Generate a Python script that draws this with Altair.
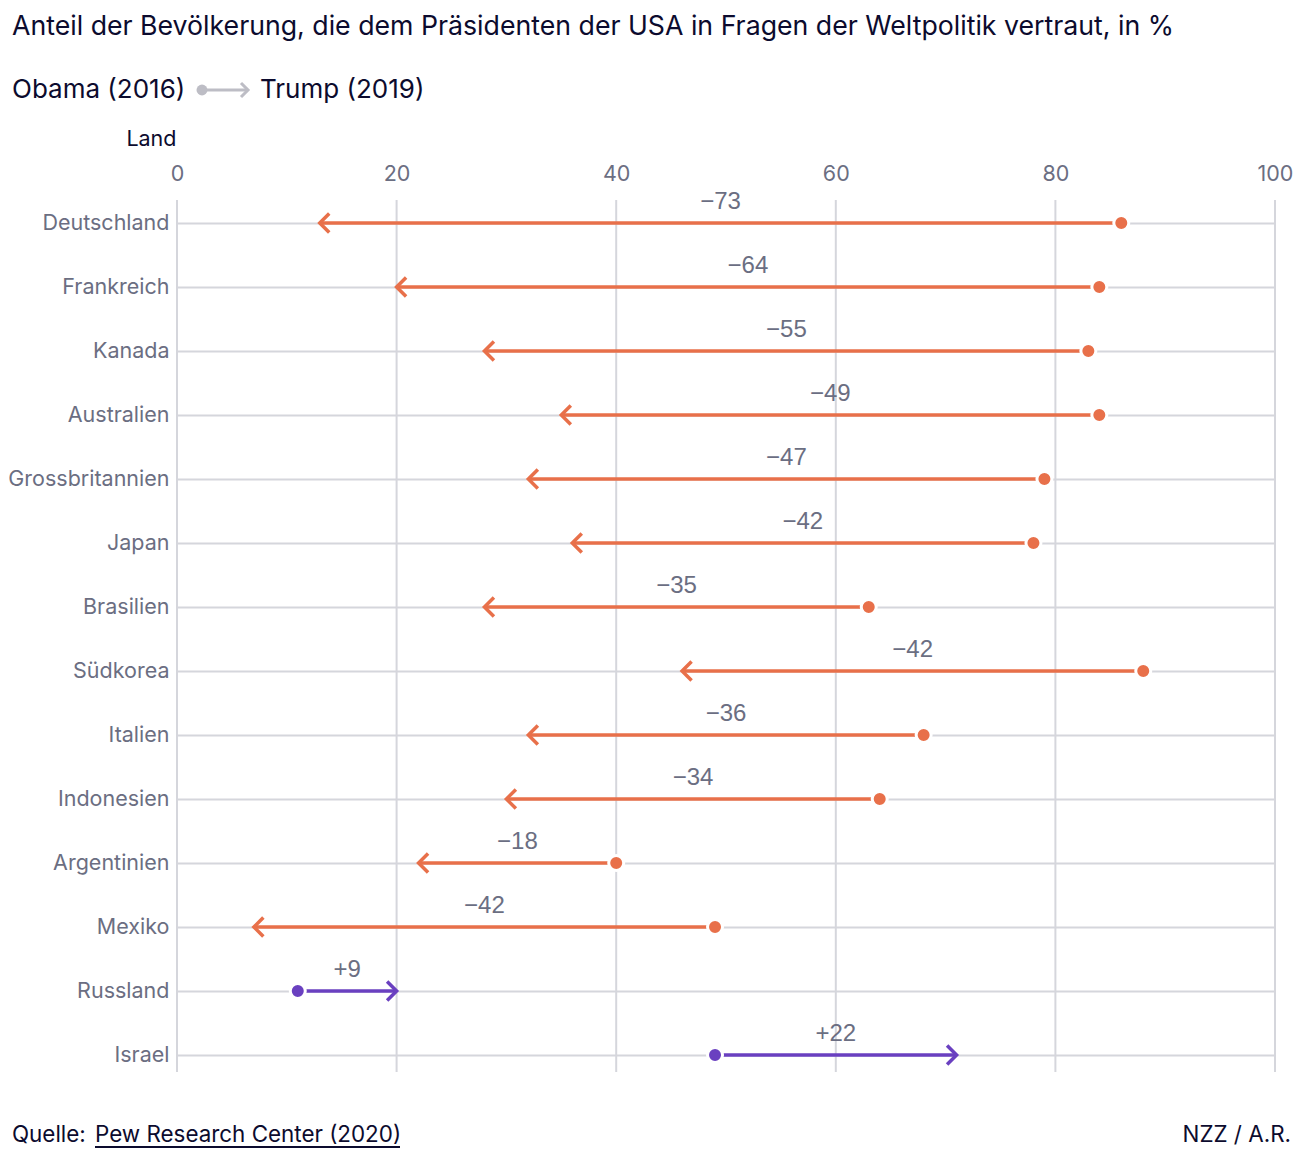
import altair as alt
import pandas as pd

# ---------------- data ----------------
countries = ["Deutschland", "Frankreich", "Kanada", "Australien", "Grossbritannien",
             "Japan", "Brasilien", "Südkorea", "Italien", "Indonesien",
             "Argentinien", "Mexiko", "Russland", "Israel"]
obama_2016 = [86, 84, 83, 84, 79, 78, 63, 88, 68, 64, 40, 49, 11, 49]
trump_2019 = [13, 20, 28, 35, 32, 36, 28, 46, 32, 30, 22, 7, 20, 71]
x_ticks = [0, 20, 40, 60, 80, 100]

title_text = "Anteil der Bevölkerung, die dem Präsidenten der USA in Fragen der Weltpolitik vertraut, in %"
legend_from = "Obama (2016)"
legend_to = "Trump (2019)"
source_label = "Quelle:"
source_link = "Pew Research Center (2020)"
credit = "NZZ / A.R."

# ---------------- style ----------------
FONT = "Inter"
NUMFONT = "Liberation Sans"
ORANGE = "#e8704a"
PURPLE = "#6a40c0"
DARK = "#0c0b2e"
GRAY_TXT = "#6b6e82"
GRID = "#d5d6dc"
LEG_GRAY = "#bdbdc5"

PL, PT = 177, 200  # plot origin in page pixels
W, H = 1098, 872


def px(x):
    return x - PL


def py(y):
    return y - PT


rows = []
for c, o, t in zip(countries, obama_2016, trump_2019):
    d = t - o
    lab = ("+" if d > 0 else "\u2212") + str(abs(d))
    rows.append({"Land": c, "Obama": o, "Trump": t, "mid": (o + t) / 2,
                 "lab": lab, "dir": "up" if d > 0 else "down"})
df = pd.DataFrame(rows)

yaxis = alt.Axis(title="Land", titleAngle=0, titleAlign="right",
                 titleX=-1, titleY=py(145), titleBaseline="alphabetic",
                 titleFont=FONT, titleFontSize=21.5, titleFontWeight="normal",
                 titleColor=DARK,
                 labelFont=FONT, labelFontSize=21.5, labelColor=GRAY_TXT,
                 labelPadding=8, ticks=False, tickSize=0, domain=False,
                 grid=True, gridColor=GRID, gridWidth=2)
yscale = alt.Scale(type="point", range=[23, 855], padding=0)
xaxis = alt.Axis(orient="top", values=x_ticks, title=None, labelFont=FONT,
                 labelFontSize=21.5, labelColor=GRAY_TXT, labelPadding=19.5,
                 labelBaseline="alphabetic", labelFlush=False, ticks=False,
                 tickSize=0, domain=False, grid=False)
xscale = alt.Scale(domain=[0, 100], nice=False)


def X(field, axis=xaxis):
    return alt.X(field, scale=xscale, axis=axis)


def Y():
    return alt.Y("Land:N", sort=countries, scale=yscale, axis=yaxis)


dir_scale = alt.Scale(domain=["down", "up"], range=[ORANGE, PURPLE])
col = alt.Color("dir:N", scale=dir_scale, legend=None)

# vertical grid lines at the x tick values, spanning the full plot height
vgrid = alt.Chart(pd.DataFrame({"v": x_ticks})).mark_rule(
    color=GRID, strokeWidth=2).encode(
    x=X("v:Q"), y=alt.value(0), y2=alt.value(H))

base = alt.Chart(df)

rules = base.mark_rule(strokeWidth=3.5).encode(
    x=X("Obama:Q"), x2="Trump:Q", y=Y(), color=col)

chev_left = "M1,-1L0,0L1,1"
chev_right = "M-1,-1L0,0L-1,1"
heads = base.mark_point(filled=False, strokeWidth=3.5, size=361, opacity=1).encode(
    x=X("Trump:Q"), y=Y(), color=col,
    shape=alt.Shape("dir:N", scale=alt.Scale(domain=["down", "up"],
                                              range=[chev_left, chev_right]),
                    legend=None))

dots = base.mark_point(filled=True, size=225, stroke="white", strokeWidth=3,
                       opacity=1).encode(
    x=X("Obama:Q"), y=Y(),
    fill=alt.Fill("dir:N", scale=dir_scale, legend=None),
    shape=alt.value("circle"))

labels = base.mark_text(font=NUMFONT, fontSize=24, color=GRAY_TXT, dy=-21,
                        baseline="middle", align="center").encode(
    x=X("mid:Q"), y=Y(), text="lab:N")


def txt(text, x, y, size, color, align="left", font=FONT):
    return alt.Chart(pd.DataFrame({"t": [text]})).mark_text(
        align=align, baseline="alphabetic", fontSize=size, font=font, color=color
    ).encode(x=alt.value(x), y=alt.value(y), text="t:N")


one = pd.DataFrame({"k": [0]})

title = txt(title_text, px(12), py(35), 26.7, DARK)
leg1 = txt(legend_from, px(12), py(98), 26, DARK)
leg2 = txt(legend_to, px(260), py(98), 26, DARK)
leg_line = alt.Chart(one).mark_rule(strokeWidth=3, color=LEG_GRAY).encode(
    x=alt.value(px(203)), x2=alt.value(px(248)), y=alt.value(py(90)))
leg_dot = alt.Chart(one).mark_point(filled=True, size=120, color=LEG_GRAY, opacity=1).encode(
    x=alt.value(px(202)), y=alt.value(py(90)), shape=alt.value("circle"))
leg_head = alt.Chart(one).mark_point(filled=False, size=196, strokeWidth=3,
                                     color=LEG_GRAY, opacity=1).encode(
    x=alt.value(px(248)), y=alt.value(py(90)), shape=alt.value(chev_right))

src1 = txt(source_label, px(12), py(1142), 22.4, DARK)
src2 = txt(source_link, px(95), py(1142), 22.4, DARK)
underline = alt.Chart(one).mark_rule(strokeWidth=2, color=DARK).encode(
    x=alt.value(px(95)), x2=alt.value(px(400)), y=alt.value(py(1147)))
cred = txt(credit, px(1291), py(1142), 22.4, DARK, align="right")

chart = alt.layer(
    vgrid, rules, heads, dots, labels,
    title, leg1, leg2, leg_line, leg_dot, leg_head,
    src1, src2, underline, cred
).properties(
    width=W, height=H,
    padding={"left": PL, "top": PT, "right": 1300 - PL - W, "bottom": 1160 - PT - H},
    autosize=alt.AutoSizeParams(type="none"),
    background="white",
).configure_view(stroke=None)

chart.save("out.html", embed_options={"renderer": "svg", "actions": False})
